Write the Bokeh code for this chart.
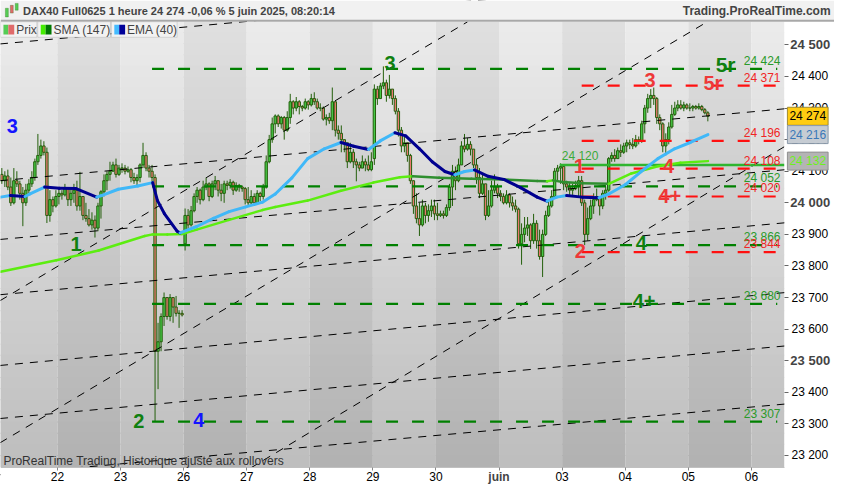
from bokeh.plotting import figure
from bokeh.models import FixedTicker, Label, BoxAnnotation, ColumnDataSource, Range1d
from bokeh.core.properties import value
from bokeh.embed import file_html
from bokeh.resources import INLINE

FONT = "Liberation Sans"

# ---- données (DAX40 Full0625, barres 1 heure) ----
day_labels = ["22", "23", "26", "27", "28", "29", "30", "juin", "03", "04", "05", "06"]
first_bar = 2  # première barre visible : 21 mai, 3e barre de la séance (21 barres / séance)

opens = [
    # 21 mai
    24090, 24070, 24085, 24050, 24000, 24070, 24060, 24030, 24000, 24040, 24060, 24080, 24130, 24150, 24180, 24160, 23960, 24010, 23990,
    # 22 mai
    24020, 24030, 24025, 24045, 24010, 24030, 24040, 23990, 24020, 23960, 23950, 23930, 23945, 23920, 23990, 24035, 24070, 24090, 24100, 24120, 24090,
    # 23 mai
    24110, 24110, 24100, 24105, 24080, 24070, 24080, 24120, 24150, 24110, 24100, 24080, 23530, 23560, 23640, 23700, 23640, 23700, 23670, 23650, 23650,
    # 26 mai
    23870, 23960, 23930, 23975, 24020, 24040, 24010, 24050, 24060, 24020, 24060, 24070, 24040, 24030, 24060, 24055, 24065, 24040, 24055, 24050, 24045,
    # 27 mai
    24010, 24000, 24020, 24000, 24030, 24020, 24050, 24130, 24200, 24250, 24275, 24250, 24270, 24230, 24270, 24320, 24300, 24320, 24305, 24300, 24320,
    # 28 mai
    24310, 24330, 24320, 24300, 24300, 24265, 24270, 24260, 24320, 24230, 24220, 24200, 24190, 24130, 24160, 24130, 24120, 24110, 24130, 24120, 24105,
    # 29 mai
    24140, 24360, 24330, 24370, 24380, 24340, 24360, 24330, 24290, 24230, 24180, 24190, 24150, 24070, 23990, 23950, 23930, 23990, 23960, 23975, 23990,
    # 30 mai
    23965, 23960, 23965, 23960, 23985, 24050, 24100, 24070, 24120, 24180, 24170, 24185, 24170, 24120, 24080, 24030, 24060, 23960, 23990, 24040, 24050,
    # 2 juin
    24030, 24020, 24000, 24025, 24000, 23990, 23980, 23870, 23900, 23920, 23930, 23880, 23935, 23880, 23830, 23900, 23960, 23990, 24020, 24100, 24110,
    # 3 juin
    24115, 24060, 24050, 24040, 24045, 24055, 24070, 24000, 23900, 23950, 23990, 24010, 24020, 23990, 24030, 24040, 24140, 24150, 24140, 24165, 24160,
    # 4 juin
    24180, 24190, 24185, 24180, 24200, 24195, 24250, 24300, 24330, 24340, 24330, 24270, 24250, 24180, 24200, 24240, 24280, 24300, 24310, 24300, 24310,
    # 5 juin
    24300, 24300, 24305, 24300, 24305, 24295, 24285,
]
highs = [
    24110, 24100, 24105, 24080, 24110, 24100, 24070, 24050, 24060, 24075, 24100, 24140, 24218, 24200, 24195, 24175, 24040, 24020, 24040,
    24045, 24040, 24060, 24050, 24045, 24060, 24070, 24098, 24020, 24000, 23980, 23970, 23960, 24000, 24040, 24090, 24100, 24130, 24130, 24140, 24120,
    24125, 24120, 24115, 24110, 24095, 24090, 24125, 24190, 24160, 24120, 24120, 24090, 23620, 23650, 23716, 23700, 23711, 23700, 23705, 23660, 23660,
    23982, 23980, 23990, 24030, 24050, 24045, 24070, 24080, 24065, 24070, 24085, 24070, 24060, 24070, 24070, 24075, 24070, 24065, 24060, 24055, 24050,
    24050, 24040, 24030, 24040, 24035, 24060, 24150, 24215, 24270, 24280, 24280, 24275, 24275, 24290, 24345, 24325, 24335, 24325, 24310, 24330, 24325,
    24345, 24350, 24330, 24315, 24305, 24280, 24285, 24365, 24320, 24245, 24245, 24200, 24190, 24190, 24170, 24140, 24130, 24150, 24140, 24150, 24160,
    24375, 24370, 24380, 24432, 24390, 24405, 24360, 24340, 24300, 24240, 24210, 24190, 24155, 24070, 24030, 24000, 24010, 24000, 23995, 24010, 24010,
    24000, 23975, 23975, 23995, 24060, 24120, 24115, 24140, 24195, 24218, 24205, 24195, 24170, 24140, 24110, 24090, 24060, 24040, 24070, 24090, 24060,
    24040, 24030, 24040, 24030, 24020, 24010, 23985, 23935, 23955, 23955, 23935, 23965, 23945, 23915, 23915, 23975, 24010, 24040, 24110, 24120, 24125,
    24120, 24070, 24065, 24060, 24070, 24085, 24085, 24010, 23985, 24010, 24030, 24045, 24020, 24040, 24050, 24145, 24160, 24170, 24175, 24185, 24190,
    24200, 24200, 24205, 24215, 24210, 24260, 24310, 24345, 24360, 24365, 24335, 24280, 24255, 24220, 24255, 24310, 24320, 24325, 24325, 24320, 24315,
    24315, 24310, 24310, 24315, 24310, 24300, 24290,
]
lows = [
    24060, 24050, 24040, 23990, 23995, 24050, 24010, 23926, 23990, 24030, 24050, 24070, 24120, 24140, 24150, 23936, 23940, 23970, 23985,
    23995, 24010, 24020, 23990, 23990, 24000, 23975, 23975, 23945, 23940, 23925, 23915, 23890, 23910, 23950, 24020, 24040, 24070, 24100, 24080, 24085,
    24095, 24090, 24095, 24065, 24060, 24055, 24065, 24110, 24100, 24080, 24060, 23307, 23410, 23530, 23610, 23630, 23625, 23620, 23640, 23604, 23640,
    23849, 23915, 23925, 23970, 24000, 23995, 24005, 24040, 24005, 24015, 24040, 24020, 24005, 24000, 24040, 24045, 24025, 24035, 24035, 24035, 23995,
    23990, 23995, 23990, 23995, 24005, 24010, 24045, 24125, 24190, 24220, 24240, 24235, 24200, 24225, 24250, 24280, 24290, 24280, 24290, 24295, 24295,
    24305, 24310, 24295, 24290, 24260, 24245, 24250, 24230, 24210, 24200, 24160, 24160, 24110, 24125, 24110, 24068, 24100, 24110, 24100, 24100, 24100,
    24120, 24310, 24330, 24360, 24320, 24330, 24310, 24280, 24210, 24160, 24160, 24130, 24060, 23965, 23935, 23895, 23925, 23935, 23940, 23955, 23945,
    23945, 23955, 23950, 23955, 23975, 23990, 24040, 24065, 24120, 24160, 24165, 24150, 24110, 24060, 24015, 24025, 23945, 23955, 23985, 24030, 24015,
    24005, 23995, 23995, 23985, 23975, 23970, 23855, 23804, 23875, 23895, 23854, 23870, 23855, 23820, 23765, 23895, 23955, 23985, 24015, 24070, 24060,
    24040, 24035, 24025, 24025, 24040, 24020, 23990, 23866, 23880, 23945, 23965, 24005, 23960, 23980, 24010, 24035, 24130, 24130, 24140, 24145, 24155,
    24160, 24170, 24170, 24175, 24185, 24190, 24220, 24285, 24300, 24310, 24250, 24230, 24160, 24150, 24185, 24235, 24275, 24290, 24295, 24290, 24295,
    24290, 24290, 24295, 24295, 24290, 24280, 24258,
]
closes = [
    24070, 24085, 24050, 24000, 24070, 24060, 24030, 24000, 24040, 24060, 24080, 24130, 24150, 24180, 24160, 23960, 24010, 23990, 24020,
    24030, 24025, 24045, 24010, 24030, 24040, 23990, 24020, 23960, 23950, 23930, 23945, 23920, 23990, 24035, 24070, 24090, 24100, 24120, 24090, 24110,
    24110, 24100, 24105, 24080, 24070, 24080, 24120, 24150, 24110, 24100, 24080, 23530, 23560, 23640, 23700, 23640, 23700, 23670, 23650, 23650, 23645,
    23960, 23930, 23975, 24020, 24040, 24010, 24050, 24060, 24020, 24060, 24070, 24040, 24030, 24060, 24055, 24065, 24040, 24055, 24050, 24045, 24010,
    24000, 24020, 24000, 24030, 24020, 24050, 24130, 24200, 24250, 24275, 24250, 24270, 24230, 24270, 24320, 24300, 24320, 24305, 24300, 24320, 24310,
    24330, 24320, 24300, 24300, 24265, 24270, 24260, 24320, 24230, 24220, 24200, 24190, 24130, 24160, 24130, 24120, 24110, 24130, 24120, 24105, 24130,
    24360, 24330, 24370, 24380, 24340, 24360, 24330, 24290, 24230, 24180, 24190, 24150, 24070, 23990, 23950, 23930, 23990, 23960, 23975, 23990, 23965,
    23960, 23965, 23960, 23985, 24050, 24100, 24070, 24120, 24180, 24170, 24185, 24170, 24120, 24080, 24030, 24060, 23960, 23990, 24040, 24050, 24030,
    24020, 24000, 24025, 24000, 23990, 23980, 23870, 23900, 23920, 23930, 23880, 23935, 23880, 23830, 23900, 23960, 23990, 24020, 24100, 24110, 24115,
    24060, 24050, 24040, 24045, 24055, 24070, 24000, 23900, 23950, 23990, 24010, 24020, 23990, 24030, 24040, 24140, 24150, 24140, 24165, 24160, 24180,
    24190, 24185, 24180, 24200, 24195, 24250, 24300, 24330, 24340, 24330, 24270, 24250, 24180, 24200, 24240, 24280, 24300, 24310, 24300, 24310, 24300,
    24300, 24305, 24300, 24305, 24295, 24285, 24274,
]

# moyennes mobiles relevées (position en jours de l'axe, valeur)
ema_t = [0.098, 0.253, 0.487, 0.565, 0.798, 1.031, 1.295, 1.622, 1.700, 1.964, 2.275, 2.509, 2.586, 2.695,
         2.897, 2.944, 3.208, 3.473, 3.722, 3.986, 4.250, 4.453, 4.717, 4.966, 5.230, 5.495, 5.697, 5.930,
         6.117, 6.350, 6.521, 6.739, 6.941, 7.143, 7.299, 7.454, 7.610, 7.827, 8.076, 8.341, 8.605, 8.760,
         8.916, 9.072, 9.320, 9.585, 9.740, 10.005, 10.253, 10.518, 10.782, 11.031, 11.311]
ema_v = [24018, 24023, 24020, 24028, 24050, 24046, 24045, 24018, 24023, 24043, 24053, 24064, 24007, 23966,
         23910, 23905, 23925, 23951, 23972, 23987, 24002, 24028, 24079, 24140, 24171, 24191, 24179, 24169,
         24196, 24222, 24212, 24171, 24130, 24099, 24089, 24099, 24104, 24084, 24074, 24048, 24018, 24005,
         24018, 24023, 24018, 24016, 24028, 24058, 24099, 24140, 24171, 24191, 24216]
sma_t = [0.098, 0.984, 1.653, 2.384, 2.509, 2.742, 2.975, 3.208, 3.722, 4.250, 4.453, 4.966, 5.495, 6.008,
         6.428, 6.630, 7.050, 7.563, 8.076, 8.605, 8.760, 8.854, 9.009, 9.320, 9.740, 10.098, 10.518, 10.876, 11.311]
sma_v = [23782, 23818, 23849, 23895, 23900, 23900, 23901, 23915, 23946, 23977, 23987, 24007, 24038, 24064,
         24081, 24084, 24079, 24076, 24074, 24069, 24068, 24071, 24066, 24062, 24060, 24093, 24116, 24127, 24132]

# niveaux horizontaux
green_levels = [24424, 24052, 23866, 23680, 23307]
red_levels = [24371, 24196, 24108, 24020, 23844]
green_from = 2.5
red_from = 9.31
levels_to = 12.41
wave1_top = 24120
wave1_from = 8.96

# lignes de tendance (début / fin)
trend_t0 = [0.09, 0.09, 0.09, 0.09, 0.09, 0.09, 0.09, 0.09, 0.09, 4.06]
trend_v0 = [24503, 24070, 23884, 23709, 23485, 23317, 23139, 23690, 23240, 23160]
trend_t1 = [12.6, 12.6, 12.6, 12.6, 12.6, 12.6, 12.6, 7.50, 11.30, 12.6]
trend_v1 = [24731, 24299, 24106, 23938, 23717, 23548, 23364, 24573, 24573, 24187]

# comptages de vagues
wave_text = ["3", "1", "2", "4", "3", "1", "2", "3", "4", "4+", "4", "4+", "5r", "5r"]
wave_t = [0.285, 1.295, 2.291, 3.240, 6.272, 9.274, 9.289, 10.393, 10.689, 10.705, 10.254, 10.300, 11.591, 11.389]
wave_v = [24242, 23870, 23310, 23313, 24444, 24116, 23847, 24389, 24116, 24021, 23874, 23690, 24438, 24380]
wave_kind = ["b", "g", "g", "b", "g", "r", "r", "r", "r", "r", "g", "g", "g", "r"]

last_price = 24274
ema_last = 24216
sma_last = 24132

title_text = "DAX40 Full0625 1 heure 24 274 -0,06 % 5 juin 2025, 08:20:14"


def fmt(v):
    return f"{v // 1000} {v % 1000:03d}"


def rx(px):  # colonne en pixels de la capture -> position en jours
    return 1 + (px - 58) / 64.3


def ry(py):  # ligne en pixels de la capture -> cours
    return 24000 - (py - 209) * 3.065


# tout le canevas est le cadre ; la zone des cours va de 0 à 799 px et de 22 à 482 px
X0, X1 = rx(0), rx(850)
Y0, Y1 = ry(500), ry(0)
PX1, PY0, PY1 = rx(799), ry(482), ry(22)

p = figure(width=834, height=484, x_range=Range1d(X0, X1), y_range=Range1d(Y0, Y1),
           output_backend="svg", toolbar_location=None, y_axis_location="right",
           min_border=0, min_border_left=0, min_border_right=0, min_border_top=0, min_border_bottom=0)
p.outline_line_color = None
p.grid.visible = False
p.border_fill_color = "white"
p.background_fill_color = "white"

# fond : dégradé vertical, colonnes alternées par séance
bg_l, bg_r, bg_t, bg_b, bg_c = [], [], [], [], []
rows = 40
for d in range(13):
    base = 235 if d % 2 == 0 else 223
    for r in range(rows):
        f = r / (rows - 1)
        g = int(round(base - 45 * f))
        bg_l.append(d)
        bg_r.append(min(d + 1, PX1))
        bg_t.append(min(PY1 - (PY1 - PY0) * r / rows + 3, PY1))
        bg_b.append(PY1 - (PY1 - PY0) * (r + 1) / rows)
        bg_c.append(f"#{g:02x}{g:02x}{g:02x}")
p.quad(left=bg_l, right=bg_r, top=bg_t, bottom=bg_b, fill_color=bg_c, line_color=None)

# chandeliers
n = len(closes)
xs = [(first_bar + i + 0.5) / 21 for i in range(n)]
src = ColumnDataSource(dict(
    x=xs, h=highs, l=lows,
    top=[max(o, c) for o, c in zip(opens, closes)],
    bottom=[min(o, c) for o, c in zip(opens, closes)],
    fill=["#46c846" if c >= o else "#e8786f" for o, c in zip(opens, closes)],
))
p.segment("x", "h", "x", "l", source=src, line_color="#245f0c", line_width=1)
p.vbar(x="x", width=0.78 / 21, top="top", bottom="bottom", source=src,
       fill_color="fill", line_color="#245f0c", line_width=1)

# lignes de tendance
p.segment(trend_t0, trend_v0, trend_t1, trend_v1, line_color="black", line_width=1, line_dash="8 7")

# niveaux
p.segment([green_from] * len(green_levels), green_levels, [levels_to] * len(green_levels), green_levels,
          line_color="#008000", line_width=2.2, line_dash="12 14")
p.segment([red_from] * len(red_levels), red_levels, [levels_to] * len(red_levels), red_levels,
          line_color="#ff1010", line_width=2.2, line_dash="12 14")
p.segment([wave1_from], [wave1_top], [PX1], [wave1_top], line_color="#2fb52f", line_width=2.5)


# moyennes mobiles colorées selon la pente
def slope_line(ts, vs, up, down, width):
    cols = [up if b >= a else down for a, b in zip(vs[:-1], vs[1:])]
    p.segment(ts[:-1], vs[:-1], ts[1:], vs[1:], line_color=cols, line_width=width, line_cap="round")


slope_line(sma_t, sma_v, "#5ced10", "#2f8f2f", 2.5)
slope_line(ema_t, ema_v, "#40b8f8", "#000090", 3)

# marges hors zone des cours (bandeau titre, échelle de droite, échelle du bas)
p.quad(left=[PX1, X0, X0], right=[X1, PX1, X1], bottom=[Y0, Y0, ry(21)], top=[PY1, PY0, Y1],
       fill_color=["white", "white", "#f1f1f1"], line_color=None)
p.segment([X0], [ry(21)], [X1], [ry(21)], line_color="#a8a8a8", line_width=2)

lvl_vals = green_levels + red_levels
p.text(x=[rx(795)] * len(lvl_vals), y=lvl_vals, text=[fmt(v) for v in lvl_vals],
       text_color=["#2a9a2a"] * len(green_levels) + ["#f02525"] * len(red_levels),
       text_align="right", text_baseline="bottom", y_offset=-1,
       text_font=value(FONT), text_font_size="12px")
p.text(x=[rx(572)], y=[wave1_top], text=[fmt(wave1_top)], text_color="#3aaa3a",
       text_align="left", text_baseline="bottom", y_offset=-2,
       text_font=value(FONT), text_font_size="12px")

# comptages
kind_color = {"b": "#1414ff", "g": "#108010", "r": "#ee3838"}
sizes = ["21px" if t == "5r" and k == "g" else "20px" for t, k in zip(wave_text, wave_kind)]
p.text(x=wave_t, y=wave_v, text=wave_text, text_color=[kind_color[k] for k in wave_kind],
       text_align="center", text_baseline="middle", text_font=value(FONT),
       text_font_style="bold", text_font_size=sizes)

# axes (placés à l'intérieur du cadre)
p.xaxis.fixed_location = PY0
p.xaxis.bounds = (X0, PX1)
p.xaxis.ticker = FixedTicker(ticks=list(range(1, 13)))
p.xaxis.major_label_overrides = {i + 1: ("" if lab == "juin" else lab) for i, lab in enumerate(day_labels)}
p.xaxis.major_label_text_font = FONT
p.xaxis.major_label_text_font_size = "12px"
p.xaxis.major_label_text_color = "black"
p.xaxis.major_tick_out = 3
p.xaxis.major_tick_in = 0
p.xaxis.minor_tick_line_color = None
p.xaxis.major_label_standoff = 2
p.xaxis.axis_line_color = "#c0c0c0"
p.xaxis.major_tick_line_color = "#888888"

yticks = list(range(23200, 24501, 100))
p.yaxis.fixed_location = PX1
p.yaxis.bounds = (PY0, PY1)
p.yaxis.ticker = FixedTicker(ticks=yticks)
p.yaxis.major_label_overrides = {t: ("" if t % 500 == 0 else fmt(t)) for t in yticks}
p.yaxis.major_label_text_font = FONT
p.yaxis.major_label_text_font_size = "12px"
p.yaxis.major_label_text_color = "black"
p.yaxis.major_tick_out = 4
p.yaxis.major_tick_in = 0
p.yaxis.minor_tick_line_color = None
p.yaxis.major_label_standoff = 3
p.yaxis.axis_line_color = None
p.yaxis.major_tick_line_color = "#666666"

for t in yticks:
    if t % 500 == 0:
        p.add_layout(Label(x=rx(805), y=t, text=fmt(t), text_font=FONT, text_font_size="13px",
                           text_font_style="bold", text_baseline="middle"))
p.add_layout(Label(x=day_labels.index("juin") + 1, y=ry(492), text="juin", text_font=FONT,
                   text_font_size="12px", text_font_style="bold", text_align="center",
                   text_baseline="middle"))

# étiquettes de prix à droite
for v, bg, fg, bd in [(last_price, "#ffcc11", "black", "#a08a30"),
                      (ema_last, "#c6ccd3", "#3a78b8", "#8a9aaa"),
                      (sma_last, "#b4b4b4", "#6ef020", "#909090")]:
    p.add_layout(Label(x=rx(802), y=v, text=fmt(v), text_font=FONT, text_font_size="12px",
                       text_color=fg, background_fill_color=bg, border_line_color=bd,
                       text_baseline="middle", padding=2))

# légende
for l, r, txt, c1, c2 in [(0, 37, "Prix", "#55cc55", "#e06a6a"),
                          (38, 112, "SMA (147)", "#44ee00", "#007700"),
                          (113, 180, "EMA (40)", "#44bbff", "#000099")]:
    p.add_layout(BoxAnnotation(left=rx(l), right=rx(r), top=ry(22), bottom=ry(38),
                               fill_color="#f2f2f2", fill_alpha=1, line_color="#999999", line_width=1))
    p.add_layout(BoxAnnotation(left=rx(l + 3), right=rx(l + 8), top=ry(25), bottom=ry(35),
                               fill_color=c1, fill_alpha=1, line_color=None))
    p.add_layout(BoxAnnotation(left=rx(l + 8), right=rx(l + 14), top=ry(25), bottom=ry(35),
                               fill_color=c2, fill_alpha=1, line_color=None))
    p.add_layout(Label(x=rx(l + 16), y=ry(30), text=txt, text_font=FONT, text_font_size="12px",
                       text_baseline="middle"))

# petite icône chandeliers du bandeau
p.add_layout(BoxAnnotation(left=rx(5), right=rx(8), top=ry(8), bottom=ry(17), fill_color="#55cc55",
                           fill_alpha=1, line_color="#2a6a10"))
p.add_layout(BoxAnnotation(left=rx(10), right=rx(13), top=ry(5), bottom=ry(13), fill_color="#e06a6a",
                           fill_alpha=1, line_color="#2a6a10"))
p.add_layout(BoxAnnotation(left=rx(15), right=rx(18), top=ry(3), bottom=ry(10), fill_color="#55cc55",
                           fill_alpha=1, line_color="#2a6a10"))

# titre et mentions
p.add_layout(Label(x=rx(23), y=ry(11), text=title_text, text_font=FONT, text_font_size="11px",
                   text_font_style="bold", text_baseline="middle"))
p.add_layout(Label(x=rx(846), y=ry(11), text="Trading.ProRealTime.com", text_font=FONT,
                   text_font_size="12px", text_font_style="bold", text_align="right",
                   text_baseline="middle"))
p.add_layout(Label(x=rx(3), y=ry(476), text="ProRealTime Trading, Historique ajusté aux rollovers",
                   text_font=FONT, text_font_size="12px", text_color="#333333", text_baseline="middle"))

open("out.html", "w").write(file_html(p, INLINE))
